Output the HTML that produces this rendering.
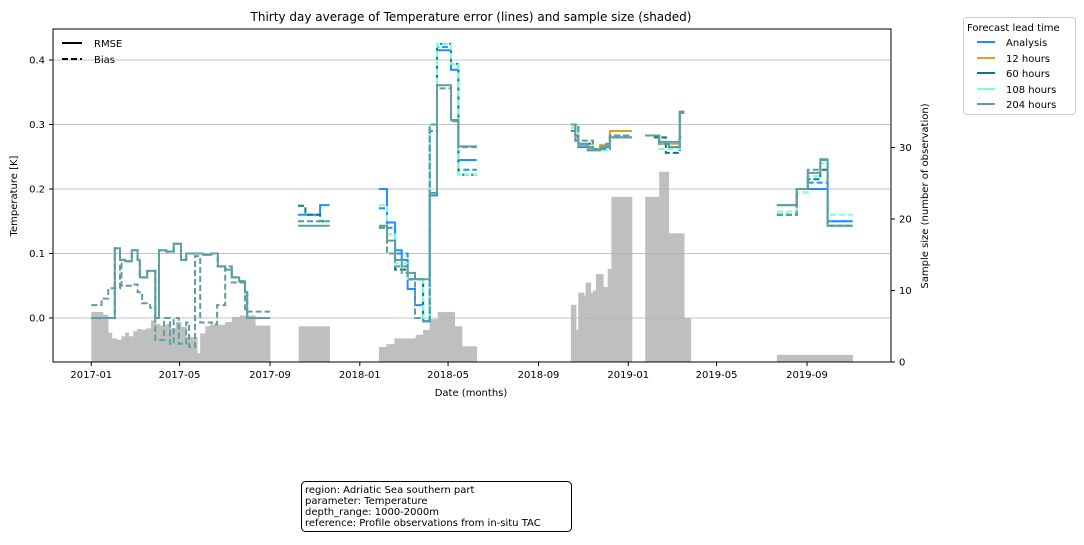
<!DOCTYPE html>
<html><head><meta charset="utf-8"><style>
body{margin:0;background:#fff;}
svg text{font-family:"DejaVu Sans","Liberation Sans",sans-serif;fill:#000;}
</style></head><body>
<svg id="chart" width="1084" height="540" viewBox="0 0 1084 540" xmlns="http://www.w3.org/2000/svg">
<rect width="1084" height="540" fill="#fff"/>
<g id="bars"></g>
<g id="grid"></g>
<g id="lines"></g>
<g id="axes"></g>
<text x="471" y="21" font-size="12" text-anchor="middle">Thirty day average of Temperature error (lines) and sample size (shaded)</text>
<text x="471" y="396" font-size="10" text-anchor="middle">Date (months)</text>
<text transform="translate(17,196) rotate(-90)" font-size="10" text-anchor="middle">Temperature [K]</text>
<text transform="translate(928,196) rotate(-90)" font-size="10" text-anchor="middle">Sample size (number of observation)</text>
<g>
<line x1="62" y1="43" x2="82" y2="43" stroke="#000" stroke-width="2"/>
<text x="94" y="47" font-size="10">RMSE</text>
<line x1="62" y1="59" x2="82" y2="59" stroke="#000" stroke-width="2" stroke-dasharray="6,3"/>
<text x="94" y="63" font-size="10">Bias</text>
</g>
<g>
<rect x="963.5" y="17.5" width="112" height="97" rx="3" fill="#fff" stroke="#ccc"/>
<text x="967" y="31" font-size="10">Forecast lead time</text>
<line x1="977" y1="42" x2="995" y2="42" stroke="#1e90ff" stroke-width="2"/><text x="1006" y="46" font-size="10">Analysis</text>
<line x1="977" y1="58" x2="995" y2="58" stroke="#e39f1c" stroke-width="2"/><text x="1006" y="62" font-size="10">12 hours</text>
<line x1="977" y1="73" x2="995" y2="73" stroke="#00807b" stroke-width="2"/><text x="1006" y="77" font-size="10">60 hours</text>
<line x1="977" y1="89" x2="995" y2="89" stroke="#7fffd4" stroke-width="2"/><text x="1006" y="93" font-size="10">108 hours</text>
<line x1="977" y1="104" x2="995" y2="104" stroke="#5f9ea0" stroke-width="2"/><text x="1006" y="108" font-size="10">204 hours</text>
</g>
<g>
<rect x="301.5" y="481.5" width="270" height="50" rx="4" fill="#fff" stroke="#000"/>
<text x="305" y="493" font-size="10">region: Adriatic Sea southern part</text>
<text x="305" y="504" font-size="10">parameter: Temperature</text>
<text x="305" y="515" font-size="10">depth_range: 1000-2000m</text>
<text x="305" y="526" font-size="10">reference: Profile observations from in-situ TAC</text>
</g>
</svg>
<script>
// days since 2017-01-01
const barStart = [0,16,23,28,35,41,46,51,57,62,68,74,81,87,93,102,108,115,122,129,134,144,148,155,161,182,191,202,223, 282, 391,401,412,441,451,460,471,494,504, 652,659,662,670,672,679,682,686,696,702,707, 753,772,785,806, 932];
const barEnd   = [16,23,28,35,41,46,51,57,62,68,74,81,87,93,102,108,115,122,129,134,144,148,155,161,182,191,202,223,243, 324, 401,412,441,451,460,471,494,504,524, 659,662,670,672,679,682,686,696,702,707,735, 772,785,806,815, 1035];
const barCount = [7,6.6,4.1,3.3,3.1,3.6,4.1,3.6,4.3,4.6,4.5,4.7,5.8,5.3,5.1,5.3,4.7,5.6,4.9,3.5,3.5,1.2,4,5,5.2,5.6,6.3,6.5,5.1, 5, 2.1,2.5,3.3,3.8,4.5,6,7,5,2.2, 8,4.5,9.7,9.2,11.1,9.7,10,12.3,10.5,13,23.1, 23.1,26.6,18,6.1, 1];

const leftTicks = [0.0,0.1,0.2,0.3,0.4];
const rightTicks = [0,10,20,30];
const xTickLabels = ["2017-01","2017-05","2017-09","2018-01","2018-05","2018-09","2019-01","2019-05","2019-09"];
const xTickDays = [0,120,243,365,485,608,730,850,973];

// step series: value holds from day[i] to day[i+1]; null = gap
const anaRmseDays = [281,311,324, 391,402,413,422,430,440,451,460,470,489,499,524, 652,658,662,675,692,705,735, 753,772,785,800,806, 932,959,974,1001,1035];
const anaRmseVals = [0.16,0.175,null, 0.2,0.148,0.105,0.09,0.045,0.02,-0.005,0.19,0.415,0.385,0.245,null, 0.29,0.275,0.265,0.26,0.265,0.28,null, 0.283,0.27,0.265,0.318,null, 0.175,0.2,0.2,0.15,null];
const anaBiasDays = [391,402,413,430,451,460,470,489,499,524, 932,959,974,1001,1035];
const anaBiasVals = [0.17,0.14,0.1,0.06,-0.005,0.29,0.42,0.385,0.23,null, 0.16,0.2,0.21,0.15,null];
const h12RmseDays = [652,658,662,675,692,705,735, 753,772,800,806];
const h12RmseVals = [0.295,0.28,0.268,0.262,0.268,0.29,null, 0.283,0.27,0.32,null];
const h60BiasDays = [0,32,39,46,55,63,66,76,87,92,102,112,122,129,152,163,172,182,191,201,209,212,243, 281,291,311,324, 391,402,413,430,451,460,470,489,499,524, 652,662,682,705,735, 753,766,781,800,806, 932,959,974,991,1001,1035];
const h60BiasVals = [0,0.108,0.09,0.088,0.105,0.09,0.063,0.073,0,0.105,0.103,0.115,0.09,0.1,0.098,0.1,0.08,0.075,0.063,0.057,0.04,0,null, 0.174,0.16,0.15,null, 0.14,0.1,0.075,0.06,-0.005,0.3,0.425,0.394,0.222,null, 0.3,0.27,0.262,0.282,null, 0.283,0.28,0.256,0.28,null, 0.16,0.2,0.215,0.23,0.143,null];
const h108BiasDays = [281,324, 391,402,413,430,451,460,470,489,499,524, 652,662,682,705,735, 753,772,800,806, 932,959,974,991,1001,1035];
const h108BiasVals = [0.15,null, 0.175,0.13,0.085,0.06,0,0.3,0.425,0.394,0.222,null, 0.295,0.27,0.26,0.28,null, 0.283,0.262,0.32,null, 0.165,0.195,0.22,0.24,0.16,null];
const h204RmseDays = [0,32,39,46,55,63,66,76,87,92,102,112,122,129,152,163,172,182,191,201,209,212,243, 281,324, 391,402,413,422,430,440,451,460,470,489,499,524, 652,658,662,668,675,682,692,700,705,735, 753,772,785,800,806, 932,959,974,991,1001,1035];
const h204RmseVals = [0,0.108,0.09,0.088,0.105,0.09,0.063,0.073,0,0.105,0.103,0.115,0.09,0.1,0.098,0.1,0.08,0.075,0.063,0.057,0.04,0,null, 0.143,null, 0.143,0.12,0.09,0.08,0.07,0.06,0.06,0.194,0.361,0.307,0.266,null, 0.3,0.283,0.27,0.27,0.265,0.26,0.265,0.27,0.28,null, 0.283,0.273,0.273,0.32,null, 0.175,0.2,0.225,0.246,0.143,null];
const h204BiasDays = [0,14,23,39,41,55,63,69,80,87,99,107,112,119,129,133,141,148,164,171,182,191,209,224,243, 281,324, 391,402,413,422,430,440,451,460,470,489,499,524, 652,662,682,705,735, 753,772,785,800,806, 932,959,974,991,1001,1035];
const h204BiasVals = [0.02,0.03,0.046,0.085,0.05,0.052,0.04,0.023,0.016,-0.034,0,-0.04,0,-0.04,-0.007,-0.045,0.096,-0.007,-0.01,0.02,0.08,0.055,0.01,0.01,null, 0.15,null, 0.14,0.1,0.08,0.07,0.06,0,-0.005,0.3,0.356,0.305,0.265,null, 0.3,0.275,0.262,0.283,null, 0.283,0.27,0.265,0.318,null, 0.16,0.2,0.23,0.245,0.143,null];

const NS = "http://www.w3.org/2000/svg";
const X0 = 53, X1 = 891, Y0 = 29, Y1 = 362;
function xPix(d){ return 91.3 + d*0.7356; }
function yL(v){ return 318 - v*645; }
function yR(c){ return 362 - c*7.15; }
function mk(tag, attrs, parent){ const e=document.createElementNS(NS,tag); for(const k in attrs) e.setAttribute(k,attrs[k]); parent.appendChild(e); return e; }

const gb=document.getElementById('bars');
for(let i=0;i<barCount.length;i++){
  const r=mk('rect',{x:xPix(barStart[i]),y:yR(barCount[i]),width:xPix(barEnd[i])-xPix(barStart[i])+0.3,height:yR(0)-yR(barCount[i]),fill:'#bfbfbf'},gb);
  
  
}
const gg=document.getElementById('grid');
leftTicks.forEach(t=>{
  const l=mk('line',{x1:X0,x2:X1,y1:yL(t),y2:yL(t),stroke:'#b0b0b0','stroke-width':0.8},gg);
  
  
});
const gl=document.getElementById('lines');
function drawStep(days, vals, color, dashed, name){
  let d='', open=false;
  for(let i=0;i<vals.length;i++){
    const v=vals[i];
    if(v===null){ open=false; continue; }
    const x1=xPix(days[i]), x2=xPix(days[i+1]), y=yL(v);
    d += (open? 'L':'M') + x1.toFixed(1)+' '+y.toFixed(1)+' L'+x2.toFixed(1)+' '+y.toFixed(1)+' ';
    open=true;
  }
  const p=mk('path',{d:d,fill:'none',stroke:color,'stroke-width':2,'stroke-dasharray':dashed?'6,3':'none','stroke-linejoin':'miter'},gl);
  
  
}
drawStep(anaRmseDays,anaRmseVals,'#1e90ff',false,'analysis-rmse-line');
drawStep(anaBiasDays,anaBiasVals,'#1e90ff',true,'analysis-bias-line');
drawStep(h12RmseDays,h12RmseVals,'#e39f1c',false,'12h-rmse-line');
drawStep(h60BiasDays,h60BiasVals,'#00807b',true,'60h-bias-line');
drawStep(h108BiasDays,h108BiasVals,'#7fffd4',true,'108h-bias-line');
drawStep(h204RmseDays,h204RmseVals,'#5f9ea0',false,'204h-rmse-line');
drawStep(h204BiasDays,h204BiasVals,'#5f9ea0',true,'204h-bias-line');

const ga=document.getElementById('axes');
const fr=mk('rect',{x:X0,y:Y0,width:X1-X0,height:Y1-Y0,fill:'none',stroke:'#000','stroke-width':1},ga);


leftTicks.forEach(t=>{
  const y=yL(t);
  mk('line',{x1:X0-4,x2:X0,y1:y,y2:y,stroke:'#000'},ga);
  const tx=mk('text',{x:X0-8,y:y+3.5,'font-size':10,'text-anchor':'end'},ga);
  tx.textContent=t.toFixed(1);
  
  
});
rightTicks.forEach(t=>{
  const y=yR(t);
  mk('line',{x1:X1,x2:X1+4,y1:y,y2:y,stroke:'#000'},ga);
  const tx=mk('text',{x:X1+8,y:y+3.5,'font-size':10},ga);
  tx.textContent=String(t);
  
  
});
xTickDays.forEach((d,i)=>{
  const x=xPix(d);
  mk('line',{x1:x,x2:x,y1:Y1,y2:Y1+4,stroke:'#000'},ga);
  const tx=mk('text',{x:x,y:Y1+16,'font-size':10,'text-anchor':'middle'},ga);
  tx.textContent=xTickLabels[i];
  
  
});
</script>
</body></html>
